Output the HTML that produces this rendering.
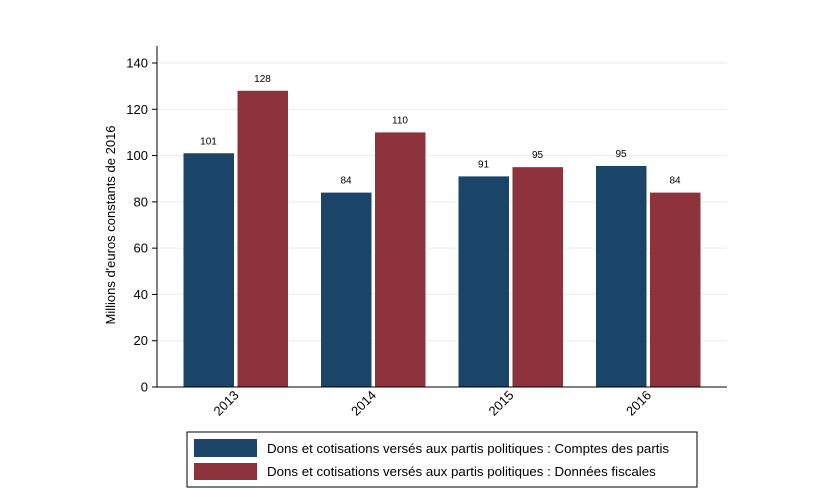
<!DOCTYPE html>
<html><head><meta charset="utf-8"><style>
body{margin:0;background:#fff;}
svg{display:block;font-family:"Liberation Sans",Arial,sans-serif;}
</style></head><body>
<svg id="chart" width="840" height="502" viewBox="0 0 840 502">
<rect x="0" y="0" width="840" height="502" fill="#fff"/>
<g id="grid"></g><g id="bars"></g><g id="axes"></g>
<text transform="translate(115,225) rotate(-90)" text-anchor="middle" font-size="13" fill="#000">Millions d'euros constants de 2016</text>
<g>
<rect x="187" y="432" width="510" height="55" fill="#fff" stroke="#000" stroke-width="1"/>
<rect x="194" y="439" width="63" height="18" fill="#1b4469"/>
<text x="267" y="453" font-size="13.3">Dons et cotisations versés aux partis politiques : Comptes des partis</text>
<rect x="194" y="463" width="63" height="17" fill="#8e333b"/>
<text x="267" y="476" font-size="13.3">Dons et cotisations versés aux partis politiques : Données fiscales</text>
</g>
</svg>
<script>
const categories=["2013","2014","2015","2016"];
const comptes=[101,84,91,95.5];
const fiscales=[128,110,95,84];
const comptesLabels=["101","84","91","95"];
const fiscalesLabels=["128","110","95","84"];
const yTicks=[0,20,40,60,80,100,120,140];
const NS="http://www.w3.org/2000/svg";
const y=v=>387-v*(324/140);
const xc=i=>235.5+137.5*i;
function mk(tag,attrs,parent,text){const e=document.createElementNS(NS,tag);for(const k in attrs)e.setAttribute(k,attrs[k]);if(text!==undefined)e.textContent=text;parent.appendChild(e);return e;}
const grid=document.getElementById('grid'),bars=document.getElementById('bars'),axes=document.getElementById('axes');
yTicks.forEach(t=>{
 if(t>0){const g=mk('line',{x1:157,x2:727,y1:y(t),y2:y(t),stroke:'#eaeaea','stroke-width':1},grid);
 
 }
 const tk=mk('line',{x1:152,x2:157,y1:y(t),y2:y(t),stroke:'#000'},axes);
 
 
 const lb=mk('text',{x:148,y:y(t)+4.5,'text-anchor':'end','font-size':13},axes,String(t));
 
 
});
const ya=mk('line',{x1:157,x2:157,y1:46,y2:387,stroke:'#000'},axes);


const xa=mk('line',{x1:157,x2:727,y1:387,y2:387,stroke:'#000'},axes);


categories.forEach((c,i)=>{
 const cx=xc(i);
 [[comptes[i],comptesLabels[i],cx-52,'#1b4469','comptes'],[fiscales[i],fiscalesLabels[i],cx+2,'#8e333b','fiscales']].forEach(([v,l,x0,col,n])=>{
  const r=mk('rect',{x:x0,y:y(v),width:50.5,height:387-y(v),fill:col},bars);
  
  
  const t=mk('text',{x:x0+25,y:y(v)-9,'text-anchor':'middle','font-size':10},bars,l);
  
  
 });
 const lb=mk('text',{transform:`translate(${cx+4},${396}) rotate(-45)`,'text-anchor':'end','font-size':13},axes,c);
 
 
});
</script>
</body></html>
